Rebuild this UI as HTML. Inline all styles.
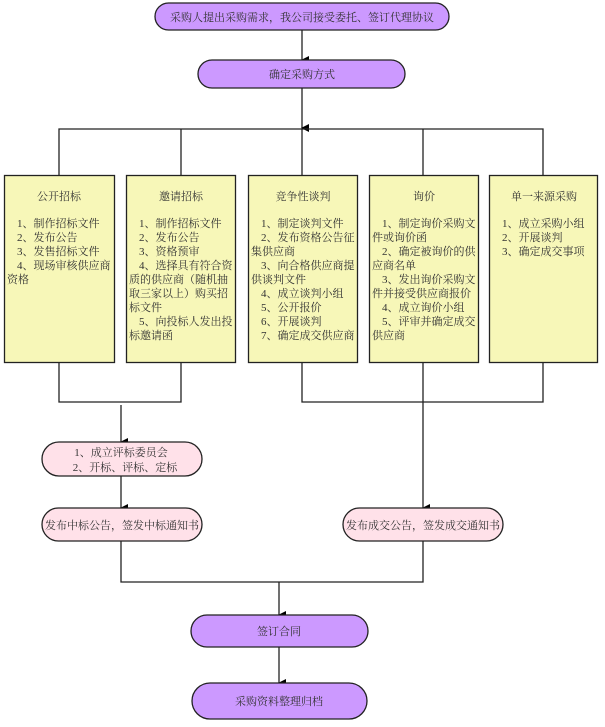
<!DOCTYPE html>
<html><head><meta charset="utf-8"><style>
body{margin:0;background:#fff;}
svg{display:block}
.t{font-family:"Liberation Serif","Noto Serif CJK SC","Noto Sans CJK SC",serif;font-size:11px;fill:#333}
.box{position:absolute;width:104px;font-family:"Liberation Serif","Noto Serif CJK SC","Noto Sans CJK SC",serif;font-size:11px;line-height:14px;color:#333}
.box .h{text-align:center;margin-bottom:13px}
.box p{margin:0;text-indent:10px}
</style></head><body>
<div style="position:relative;width:605px;height:727px;overflow:hidden">
<svg width="605" height="727" style="position:absolute;left:0;top:0">
<defs><marker id="a" markerWidth="8" markerHeight="8" refX="4" refY="7" orient="auto" markerUnits="userSpaceOnUse"><path d="M0,0 L8,0 L4,8 Z" fill="#000"/></marker></defs>
<g stroke="#222" stroke-width="1.3" fill="none">
<line x1="302" y1="30" x2="302" y2="60" marker-end="url(#a)"/>
<line x1="302" y1="88" x2="302" y2="128" marker-end="url(#a)"/>
<polyline points="59,176 59,129 543,129 543,176"/>
<line x1="181" y1="129" x2="181" y2="176"/>
<line x1="302" y1="129" x2="302" y2="176"/>
<line x1="423" y1="129" x2="423" y2="176"/>
<polyline points="59,362 59,402 181,402 181,362"/>
<polyline points="302,362 302,402 543,402 543,362"/>
<line x1="423" y1="362" x2="423" y2="508" marker-end="url(#a)"/>
<line x1="121" y1="405" x2="121" y2="442" marker-end="url(#a)"/>
<line x1="121" y1="476" x2="121" y2="508" marker-end="url(#a)"/>
<polyline points="121,541 121,582 423,582 423,541"/>
<line x1="279" y1="582" x2="279" y2="615" marker-end="url(#a)"/>
<line x1="279" y1="647" x2="279" y2="683" marker-end="url(#a)"/>
</g>
<g stroke="#222" stroke-width="1.3">
<rect x="155" y="3" width="294" height="27" rx="13.5" fill="#cc99ff"/>
<rect x="198" y="60" width="207" height="28" rx="14" fill="#cc99ff"/>
<rect x="4.5" y="175.5" width="110" height="187" fill="#f7f7b8"/>
<rect x="126.5" y="175.5" width="109" height="187" fill="#f7f7b8"/>
<rect x="248.5" y="175.5" width="109" height="187" fill="#f7f7b8"/>
<rect x="369.5" y="175.5" width="109" height="187" fill="#f7f7b8"/>
<rect x="489.5" y="175.5" width="108" height="187" fill="#f7f7b8"/>
<rect x="42" y="442" width="160" height="34" rx="17" fill="#ffe1e9"/>
<rect x="42" y="508" width="160" height="33" rx="16.5" fill="#ffe1e9"/>
<rect x="343" y="508" width="160" height="33" rx="16.5" fill="#ffe1e9"/>
<rect x="191" y="615" width="177" height="32" rx="16" fill="#cc99ff"/>
<rect x="192" y="683" width="175" height="36" rx="18" fill="#cc99ff"/>
</g>
<text class="t" x="302" y="21" text-anchor="middle">采购人提出采购需求，我公司接受委托、签订代理协议</text>
<text class="t" x="302" y="78" text-anchor="middle">确定采购方式</text>
<text class="t" x="121" y="456" text-anchor="middle">1、成立评标委员会</text>
<text class="t" x="125" y="471" text-anchor="middle">2、开标、评标、定标</text>
<text class="t" x="122" y="529" text-anchor="middle">发布中标公告，签发中标通知书</text>
<text class="t" x="423" y="529" text-anchor="middle">发布成交公告，签发成交通知书</text>
<text class="t" x="279" y="635" text-anchor="middle">签订合同</text>
<text class="t" x="279" y="705" text-anchor="middle">采购资料整理归档</text>
</svg>
<div class="box" style="left:7px;top:190px"><div class="h">公开招标</div><p>1、制作招标文件</p><p>2、发布公告</p><p>3、发售招标文件</p><p>4、现场审核供应商资格</p></div>
<div class="box" style="left:129px;top:190px"><div class="h">邀请招标</div><p>1、制作招标文件</p><p>2、发布公告</p><p>3、资格预审</p><p>4、选择具有符合资质的供应商（随机抽取三家以上）购买招标文件</p><p>5、向投标人发出投标邀请函</p></div>
<div class="box" style="left:251px;top:190px"><div class="h">竞争性谈判</div><p>1、制定谈判文件</p><p>2、发布资格公告征集供应商</p><p>3、向合格供应商提供谈判文件</p><p>4、成立谈判小组</p><p>5、公开报价</p><p>6、开展谈判</p><p>7、确定成交供应商</p></div>
<div class="box" style="left:372px;top:190px"><div class="h">询价</div><p>1、制定询价采购文件或询价函</p><p>2、确定被询价的供应商名单</p><p>3、发出询价采购文件并接受供应商报价</p><p>4、成立询价小组</p><p>5、评审并确定成交供应商</p></div>
<div class="box" style="left:492px;top:190px"><div class="h">单一来源采购</div><p>1、成立采购小组</p><p>2、开展谈判</p><p>3、确定成交事项</p></div>
</div>
</body></html>
